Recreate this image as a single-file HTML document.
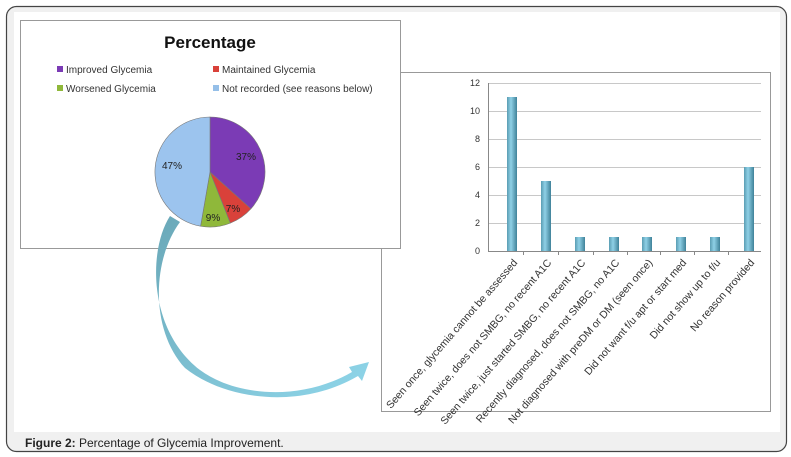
<!DOCTYPE html>
<html><head><meta charset="utf-8"><style>
body{margin:0;background:#fff;}
svg{display:block;font-family:"Liberation Sans",sans-serif;}
</style></head><body>
<svg width="791" height="457" viewBox="0 0 791 457" xmlns="http://www.w3.org/2000/svg">
<defs>
<linearGradient id="bar" x1="0" x2="1" y1="0" y2="0">
<stop offset="0" stop-color="#5a9db3"/><stop offset="0.4" stop-color="#8fd0e6"/><stop offset="1" stop-color="#3f8299"/>
</linearGradient>
<linearGradient id="arr" x1="0" x2="1" y1="0" y2="1">
<stop offset="0" stop-color="#6aa8b8"/><stop offset="1" stop-color="#8fd6ea"/>
</linearGradient>
</defs>
<rect x="6.5" y="6.5" width="780" height="445" rx="10" fill="#f0f0f0" stroke="#444" stroke-width="1.2"/>
<rect x="14" y="12" width="766" height="420" fill="#fff"/>
<text x="25" y="447" font-size="12" fill="#222"><tspan font-weight="bold">Figure 2:</tspan> Percentage of Glycemia Improvement.</text>

<!-- bar chart box -->
<rect x="381.5" y="72.5" width="389" height="339" fill="#fff" stroke="#999"/>
<g stroke="#c8c8c8" stroke-width="1">
<line x1="488" x2="761" y1="83.5" y2="83.5"/><line x1="488" x2="761" y1="111.5" y2="111.5"/>
<line x1="488" x2="761" y1="139.5" y2="139.5"/><line x1="488" x2="761" y1="167.5" y2="167.5"/>
<line x1="488" x2="761" y1="195.5" y2="195.5"/><line x1="488" x2="761" y1="223.5" y2="223.5"/>
</g>
<g stroke="#888"><line x1="488.5" x2="488.5" y1="83" y2="251"/><line x1="488" x2="761" y1="251.5" y2="251.5"/>
<line x1="523.5" x2="523.5" y1="251" y2="255"/><line x1="558.5" x2="558.5" y1="251" y2="255"/><line x1="593.5" x2="593.5" y1="251" y2="255"/><line x1="627.5" x2="627.5" y1="251" y2="255"/><line x1="660.5" x2="660.5" y1="251" y2="255"/><line x1="694.5" x2="694.5" y1="251" y2="255"/><line x1="728.5" x2="728.5" y1="251" y2="255"/></g>
<g font-size="9" fill="#333" text-anchor="end">
<text x="480" y="86">12</text><text x="480" y="114">10</text><text x="480" y="142">8</text><text x="480" y="170">6</text><text x="480" y="198">4</text><text x="480" y="226">2</text><text x="480" y="254">0</text>
</g>
<g fill="url(#bar)">
<rect x="507" y="97" width="10" height="154"/>
<rect x="541" y="181" width="10" height="70"/>
<rect x="575" y="237" width="10" height="14"/>
<rect x="609" y="237" width="10" height="14"/>
<rect x="642" y="237" width="10" height="14"/>
<rect x="676" y="237" width="10" height="14"/>
<rect x="710" y="237" width="10" height="14"/>
<rect x="744" y="167" width="10" height="84"/>
</g>
<g font-size="10.5" fill="#333" text-anchor="end">
<text transform="translate(518,263) rotate(-49)">Seen once, glycemia cannot be assessed</text>
<text transform="translate(552,263) rotate(-49)">Seen twice, does not SMBG, no recent A1C</text>
<text transform="translate(586,263) rotate(-49)">Seen twice, just started SMBG, no recent A1C</text>
<text transform="translate(620,263) rotate(-49)">Recently diagnosed, does not SMBG, no A1C</text>
<text transform="translate(653,263) rotate(-49)">Not diagnosed with preDM or DM (seen once)</text>
<text transform="translate(687,263) rotate(-49)">Did not want f/u apt or start med</text>
<text transform="translate(721,263) rotate(-49)">Did not show up to f/u</text>
<text transform="translate(755,263) rotate(-49)">No reason provided</text>
</g>

<!-- pie box -->
<rect x="20.5" y="20.5" width="380" height="228" fill="#fff" stroke="#999"/>
<text x="210" y="48" font-size="17" font-weight="bold" text-anchor="middle" fill="#111">Percentage</text>
<g font-size="10" fill="#333">
<rect x="57" y="66" width="6" height="6" fill="#7b3bb5"/><text x="66" y="73">Improved Glycemia</text>
<rect x="213" y="66" width="6" height="6" fill="#d9413a"/><text x="222" y="73">Maintained Glycemia</text>
<rect x="57" y="85" width="6" height="6" fill="#8fb83a"/><text x="66" y="92">Worsened Glycemia</text>
<rect x="213" y="85" width="6" height="6" fill="#95bfe8"/><text x="222" y="92">Not recorded (see reasons below)</text>
</g>
<g stroke="#777" stroke-width="0.6">
<path d="M210 172 L210 117 A55 55 0 0 1 250.9 208.8 Z" fill="#7b3bb5"/>
<path d="M210 172 L250.9 208.8 A55 55 0 0 1 230.3 223.1 Z" fill="#d9413a"/>
<path d="M210 172 L230.3 223.1 A55 55 0 0 1 200.6 226.2 Z" fill="#8fb83a"/>
<path d="M210 172 L200.6 226.2 A55 55 0 0 1 210 117 Z" fill="#9cc4ee"/>
</g>
<g font-size="10" fill="#222" text-anchor="middle">
<text x="246" y="160">37%</text><text x="233" y="212">7%</text><text x="213" y="221">9%</text><text x="172" y="169">47%</text>
</g>

<!-- arrow -->
<path d="M170 216 C 148 250, 148 330, 200 370 C 235 396, 300 402, 352 372 L 349 367 L 369 362 L 362 381 L 358 376 C 300 410, 225 400, 185 368 C 150 330, 152 260, 180 222 Z" fill="url(#arr)"/>
</svg>
</body></html>
